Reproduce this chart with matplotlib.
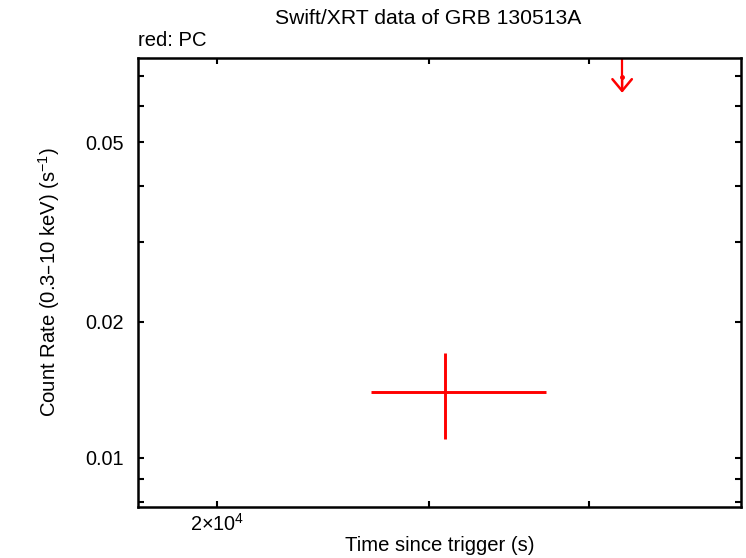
import matplotlib
matplotlib.use("Agg")
import matplotlib.pyplot as plt
import matplotlib.transforms as mtransforms
from matplotlib.ticker import FixedLocator, NullFormatter, FixedFormatter

plt.rcParams['font.family'] = ['Liberation Sans', 'DejaVu Sans']
plt.rcParams['mathtext.default'] = 'regular'
plt.rcParams['font.size'] = 14

# PC mode detection
pc_time = [53640]
pc_tlo = [38950]
pc_thi = [83080]
pc_rate = [0.01401]
pc_rlo = [0.01102]
pc_rhi = [0.01709]

# PC mode upper limit
ul_time = [115500]
ul_rate = [0.0697]

x_major = [2e4]
x_major_labels = ['2×10$^4$']
x_minor = [5e4, 1e5]
y_labelled = [0.01, 0.02, 0.05]
y_minor = [0.008, 0.009, 0.03, 0.04, 0.06, 0.07]

fig = plt.figure(figsize=(7.46, 5.58), dpi=100)
ax = fig.add_axes([138 / 746, 1 - 507 / 558, 603 / 746, 449 / 558])
ax.set_xscale('log')
ax.set_yscale('log')
ax.set_xlim(14210, 193200)
ax.set_ylim(0.00779, 0.0767)

# detection cross
xerr = [[t - lo for t, lo in zip(pc_time, pc_tlo)],
        [hi - t for t, hi in zip(pc_time, pc_thi)]]
yerr = [[r - lo for r, lo in zip(pc_rate, pc_rlo)],
        [hi - r for r, hi in zip(pc_rate, pc_rhi)]]
ax.errorbar(pc_time, pc_rate, xerr=xerr, yerr=yerr, fmt='none',
            ecolor='red', elinewidth=2.1, capsize=0)

# upper limit: line from the top edge, then a down arrow
top = ax.get_ylim()[1]
head = mtransforms.offset_copy(ax.transData, fig=fig, y=-16, units='dots')
for t, r in zip(ul_time, ul_rate):
    ax.plot([t, t], [r, top], color='red', lw=1.6, solid_capstyle='butt')
    ax.plot([t], [r], 'o', color='red', ms=2.5)
    ax.annotate('', xy=(t, r), xycoords=head,
                xytext=(t, r), textcoords='data',
                arrowprops=dict(arrowstyle='->,head_length=0.6,head_width=0.5',
                                color='red', lw=1.8, shrinkA=0, shrinkB=0))

ax.xaxis.set_major_locator(FixedLocator(x_major))
ax.xaxis.set_major_formatter(FixedFormatter(x_major_labels))
ax.xaxis.set_minor_locator(FixedLocator(x_minor))
ax.xaxis.set_minor_formatter(NullFormatter())
ax.yaxis.set_major_locator(FixedLocator(y_labelled))
ax.yaxis.set_major_formatter(FixedFormatter([f'{v:.2f}' for v in y_labelled]))
ax.yaxis.set_minor_locator(FixedLocator(y_minor))
ax.yaxis.set_minor_formatter(NullFormatter())

ax.tick_params(which='both', direction='in', top=True, right=True,
               width=1.5, length=4, labelsize=14.3)
ax.tick_params(axis='x', pad=4)
ax.tick_params(axis='y', pad=10)
for s in ax.spines.values():
    s.set_linewidth(1.8)

ax.set_xlabel('Time since trigger (s)', fontsize=14.6, labelpad=1)
ax.set_ylabel('Count Rate (0.3–10 keV) (s$^{-1}$)', fontsize=14.6, labelpad=17)
fig.text(428 / 746, 1 - 18 / 558, 'Swift/XRT data of GRB 130513A',
         ha='center', va='center', fontsize=15.2)
fig.text(138 / 746, 1 - 41 / 558, 'red: PC', ha='left', va='center', fontsize=14.6)

fig.savefig('out.png', dpi=100)
